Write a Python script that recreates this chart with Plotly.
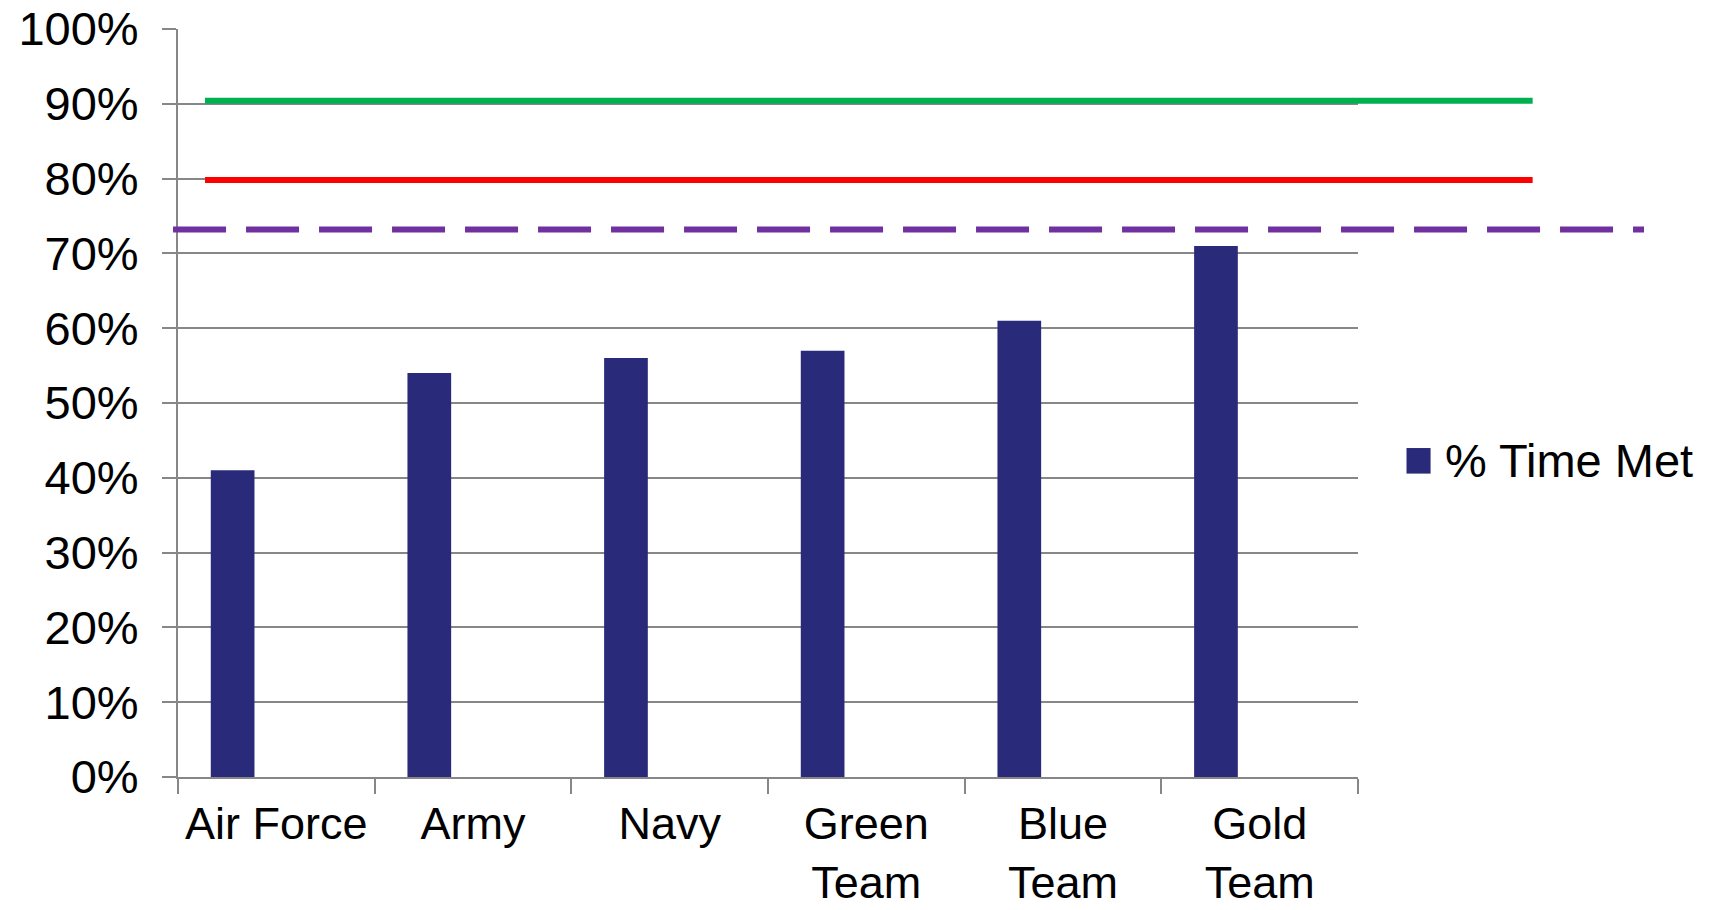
import plotly.graph_objects as go

# Share of time the response standard was met, by unit
categories = ["Air Force", "Army", "Navy", "Green<br>Team", "Blue<br>Team", "Gold<br>Team"]
time_met = [0.41, 0.54, 0.56, 0.57, 0.61, 0.71]

# Reference thresholds drawn across the chart
goal_value = 0.904      # green
minimum_value = 0.798   # red
average_value = 0.732   # purple dashed

y_ticks = [i / 10 for i in range(11)]
y_range = [0.0, 1.0]

FONT = "Arial, Liberation Sans, sans-serif"
GRID = "#878787"
BAR = "#2A2A7B"

fig = go.Figure()
fig.add_trace(go.Bar(
    x=categories,
    y=time_met,
    name="% Time Met",
    marker=dict(color=BAR, line=dict(width=0)),
    width=0.2222,
    offset=-0.3333,
    showlegend=False,
))


def to_paper(v):
    return (v - y_range[0]) / (y_range[1] - y_range[0])


shapes = [
    dict(type="line", xref="paper", yref="paper",
         x0=0.0229, x1=1.148, y0=to_paper(goal_value), y1=to_paper(goal_value),
         line=dict(color="#00B050", width=6)),
    dict(type="line", xref="paper", yref="paper",
         x0=0.0229, x1=1.148, y0=to_paper(minimum_value), y1=to_paper(minimum_value),
         line=dict(color="#FF0000", width=6)),
    dict(type="line", xref="paper", yref="paper",
         x0=-0.0042, x1=1.2424, y0=to_paper(average_value), y1=to_paper(average_value),
         line=dict(color="#7030A0", width=6, dash="53px,20px")),
    # legend swatch
    dict(type="rect", xref="paper", yref="paper",
         x0=1.0411, x1=1.0615, y0=0.4056, y1=0.4398,
         fillcolor=BAR, line=dict(width=0)),
]

fig.update_layout(
    width=1719,
    height=910,
    margin=dict(l=178, r=361, t=29, b=133, pad=0, autoexpand=False),
    paper_bgcolor="white",
    plot_bgcolor="white",
    font=dict(family=FONT, color="black", size=46),
    showlegend=False,
    shapes=shapes,
    annotations=[dict(
        text="% Time Met", xref="paper", yref="paper",
        x=1.0720, y=0.4227, xanchor="left", yanchor="middle",
        showarrow=False, font=dict(family=FONT, size=47, color="black"),
    )],
    xaxis=dict(
        type="category",
        automargin=False,
        tickangle=0,
        showline=True, linecolor=GRID, linewidth=2,
        ticks="outside", tickson="boundaries", ticklen=15,
        tickcolor=GRID, tickwidth=2,
        showgrid=False, zeroline=False,
        tickfont=dict(family=FONT, size=45, color="black"),
        ticklabelstandoff=6,
    ),
    yaxis=dict(
        range=y_range,
        automargin=False,
        tickvals=y_ticks,
        tickformat=".0%",
        showline=True, linecolor=GRID, linewidth=2,
        ticks="outside", ticklen=14, tickcolor=GRID, tickwidth=2,
        showgrid=True, gridcolor=GRID, gridwidth=2,
        zeroline=False,
        tickfont=dict(family=FONT, size=47, color="black"),
        ticklabelstandoff=14,
    ),
)

fig.write_html("out.html")
